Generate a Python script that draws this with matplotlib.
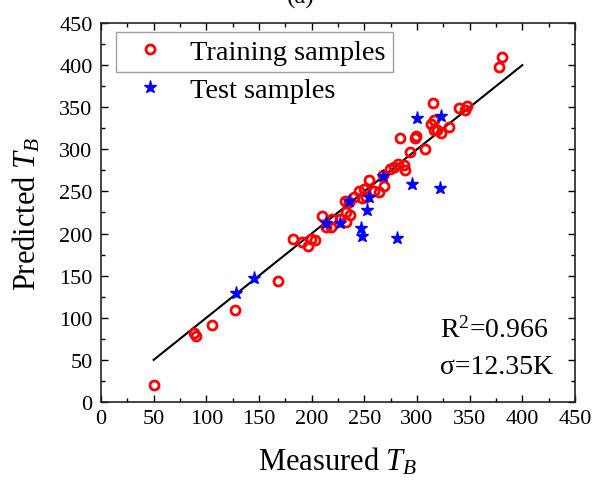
import matplotlib.pyplot as plt
from matplotlib.ticker import MultipleLocator

plt.rcParams['font.family'] = ['Liberation Serif', 'DejaVu Serif']
plt.rcParams['mathtext.fontset'] = 'custom'
plt.rcParams['mathtext.it'] = 'Liberation Serif:italic'
plt.rcParams['mathtext.rm'] = 'Liberation Serif'

# training samples (measured, predicted)
train_meas = [50, 88, 90, 105, 127, 168, 182, 191, 197, 203, 199, 210, 214, 218,
              219, 227, 233, 236, 233, 235, 232, 240, 245, 250, 254, 248, 252,
              259, 264, 269, 268, 274, 278, 282, 288, 289, 293, 298, 299, 284,
              308, 313, 316, 315, 316, 319, 323, 330, 340, 347, 346, 378, 381]
train_pred = [20, 82, 78, 91, 109, 144, 194, 190, 185, 192, 193, 221, 208, 208,
              217, 217, 214, 222, 226, 237, 239, 243, 251, 253, 263, 242, 243,
              250, 249, 256, 270, 277, 279, 283, 281, 275, 297, 313, 316, 313,
              300, 330, 335, 355, 323, 323, 319, 326, 349, 352, 347, 398, 410]

# test samples
test_meas = [128, 145, 214, 227, 235, 254, 253, 247, 248, 281, 268, 295, 322, 300, 323]
test_pred = [129, 147, 213, 212, 239, 243, 228, 207, 197, 195, 268, 259, 254, 337, 339]

fit_x = [50, 400]
fit_y = [50, 400]

fig = plt.figure(figsize=(5.95, 4.81), dpi=100)
ax = fig.add_axes([0.1697, 0.1622, 0.7967, 0.7879])

ax.plot(fit_x, fit_y, color='black', lw=1.5, zorder=2)
tr, = ax.plot(train_meas, train_pred, 'o', ls='none', mfc='none', mec='red',
              ms=6.5, mew=2, zorder=3)
te, = ax.plot(test_meas, test_pred, '*', ls='none', color='blue',
              ms=9.5, zorder=4)

ax.set_xlim(0, 450)
ax.set_ylim(0, 450)
ax.xaxis.set_major_locator(MultipleLocator(50))
ax.yaxis.set_major_locator(MultipleLocator(50))
ax.xaxis.set_minor_locator(MultipleLocator(25))
ax.yaxis.set_minor_locator(MultipleLocator(25))
ax.tick_params(which='both', direction='in', top=True, right=True, labelsize=16)
ax.tick_params(which='major', length=5, width=1)
ax.tick_params(which='minor', length=3, width=1)
ax.tick_params(axis='x', pad=5)
ax.tick_params(axis='y', pad=6)
for s in ax.spines.values():
    s.set_linewidth(1.2)
    s.set_color('#222222')

ax.set_xlabel('Measured $T_B$', fontsize=22, labelpad=12)
ax.set_ylabel('Predicted $T_B$', fontsize=22, labelpad=12)

leg1 = ax.legend([tr], ['Training samples'], loc='upper left',
                 bbox_to_anchor=(0.032, 0.976), fontsize=20.5, frameon=True,
                 fancybox=False, edgecolor='#888888', handlelength=1.9,
                 handletextpad=0.44, borderpad=0.25, borderaxespad=0)
leg1.get_frame().set_linewidth(1)
ax.add_artist(leg1)
ax.legend([te], ['Test samples'], loc='upper left',
          bbox_to_anchor=(0.032, 0.877), fontsize=20.5, frameon=False,
          handlelength=1.9, handletextpad=0.44, borderpad=0.25, borderaxespad=0)

ax.text(322, 78, 'R$^2$=0.966', fontsize=20)
ax.text(322, 34, 'σ=12.35K', fontsize=20)

fig.text(0.505, 1.005, '(a)', ha='center', va='center', fontsize=18)

fig.savefig('out.png', dpi=100)
